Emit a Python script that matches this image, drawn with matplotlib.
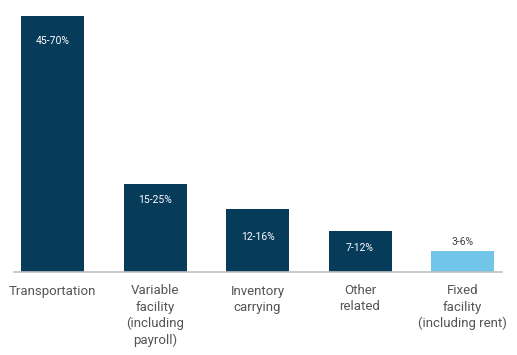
import matplotlib
matplotlib.use('Agg')
import matplotlib.pyplot as plt

# cost categories and share of logistics cost (bar height ~ midpoint of range)
categories = ['Transportation', 'Variable\nfacility\n(including\npayroll)',
              'Inventory\ncarrying', 'Other\nrelated', 'Fixed\nfacility\n(including rent)']
values = [57.5, 19.8, 14.2, 9.3, 4.7]
range_labels = ['45-70%', '15-25%', '12-16%', '7-12%', '3-6%']

DARK = '#073B5A'
LIGHT = '#71C5E8'
colors = [DARK, DARK, DARK, DARK, LIGHT]
# label offset from bar top, in points (negative = inside the bar)
label_offsets = [-14, -8, -17, -9, 3]

plt.rcParams['font.family'] = ['Roboto', 'DejaVu Sans']

fig = plt.figure(figsize=(5.17, 3.55), dpi=100)
ax = fig.add_axes([14 / 517, 83 / 355, 488 / 517, 262 / 355])

x = range(len(categories))
bars = ax.bar(x, values, width=0.615, color=colors)

for bar, lab, off in zip(bars, range_labels, label_offsets):
    inside = off < 0
    ax.annotate(lab, (bar.get_x() + bar.get_width() / 2, bar.get_height()),
                xytext=(0, off), textcoords='offset points',
                ha='center', va='top' if inside else 'bottom',
                color='white' if inside else '#404040', fontsize=7.5)

ax.set_xlim(-0.376, 4.385)
ax.set_ylim(0, 58.9)
ax.set_xticks(list(x))
ax.set_xticklabels(categories, color='#555555', fontsize=9.5, linespacing=1.3, va='top')
ax.tick_params(axis='x', length=0, pad=9)
ax.set_yticks([])
for side in ['top', 'left', 'right']:
    ax.spines[side].set_visible(False)
ax.spines['bottom'].set_color('#c0c0c0')
ax.spines['bottom'].set_linewidth(1.2)

fig.savefig('out.png', dpi=100)
